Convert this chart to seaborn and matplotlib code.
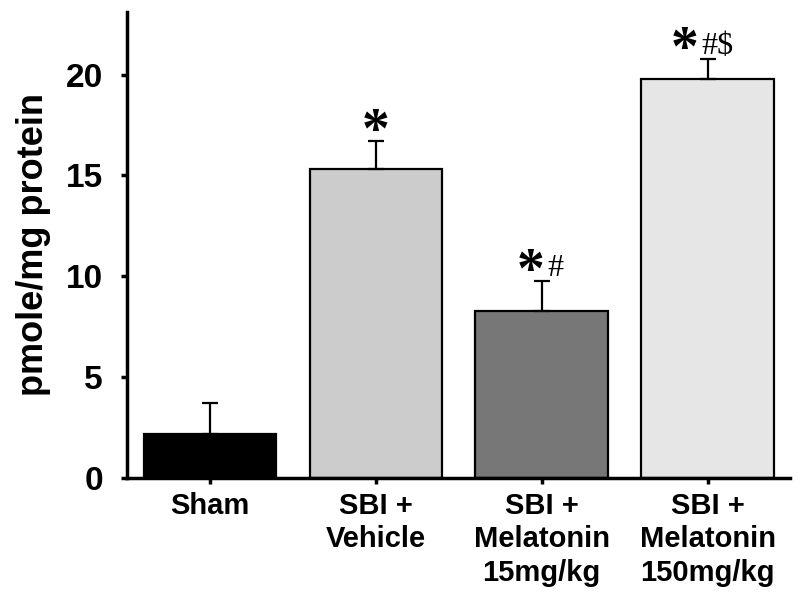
import numpy as np
import pandas as pd
import matplotlib.pyplot as plt
import seaborn as sns

# values
groups = ['Sham', 'SBI +\nVehicle', 'SBI +\nMelatonin\n15mg/kg', 'SBI +\nMelatonin\n150mg/kg']
means = [2.2, 15.3, 8.3, 19.8]
sem = [1.5, 1.4, 1.45, 0.95]
stars = ['', '*', '*', '*']
marks = ['', '', '#', '#$']
colors = ['#000000', '#cccccc', '#777777', '#e6e6e6']

sns.set_style('ticks')
plt.rcParams['font.family'] = ['Liberation Sans', 'DejaVu Sans']
plt.rcParams.update({'text.color': 'black', 'axes.labelcolor': 'black',
                     'xtick.color': 'black', 'ytick.color': 'black',
                     'axes.edgecolor': 'black'})

df = pd.DataFrame({'group': groups, 'value': means})

fig = plt.figure(figsize=(8, 5.99), dpi=100)
ax = fig.add_axes([0.159, 0.202, 0.829, 0.778])
sns.barplot(data=df, x='group', y='value', hue='group', palette=colors,
            legend=False, edgecolor='black', linewidth=1.6, width=0.8,
            errorbar=None, ax=ax)

px = 0.72  # points per pixel at dpi 100
# error bars (upper only) and significance marks
for patch, m, e, s, t in zip(ax.patches, means, sem, stars, marks):
    xc = patch.get_x() + patch.get_width() / 2
    ax.errorbar(xc, m, yerr=[[0], [e]], fmt='none', ecolor='black',
                elinewidth=1.6, capsize=6, capthick=1.6)
    if s:
        sdx = -11.5 * len(t)
        ax.annotate(s, (xc, m + e), xytext=(sdx * px, -6 * px),
                    textcoords='offset points', ha='center', va='baseline',
                    fontsize=40, fontweight='bold', family='Liberation Serif')
    if t:
        ax.annotate(t, (xc, m + e), xytext=((sdx + 17) * px, 5 * px),
                    textcoords='offset points', ha='left', va='baseline',
                    fontsize=23, family='Liberation Serif')

ax.set_xlim(-0.5, 3.5)
ax.set_ylim(0, 23.1)
ax.set_yticks([0, 5, 10, 15, 20])
ax.set_xlabel('')
ax.set_ylabel('pmole/mg protein', fontsize=26, fontweight='bold')
ax.yaxis.set_label_coords(-0.115, 0.5)
sns.despine(ax=ax)
for side in ['left', 'bottom']:
    ax.spines[side].set_linewidth(2.5)
ax.tick_params(axis='y', length=4.5, width=2.5, labelsize=24, pad=13)
ax.tick_params(axis='x', length=4, width=2.5, labelsize=21, pad=6)
for lbl in ax.get_xticklabels():
    lbl.set_fontweight('bold')
    lbl.set_linespacing(1.25)
for lbl in ax.get_yticklabels():
    lbl.set_fontweight('bold')

fig.savefig('out.png', dpi=100)
